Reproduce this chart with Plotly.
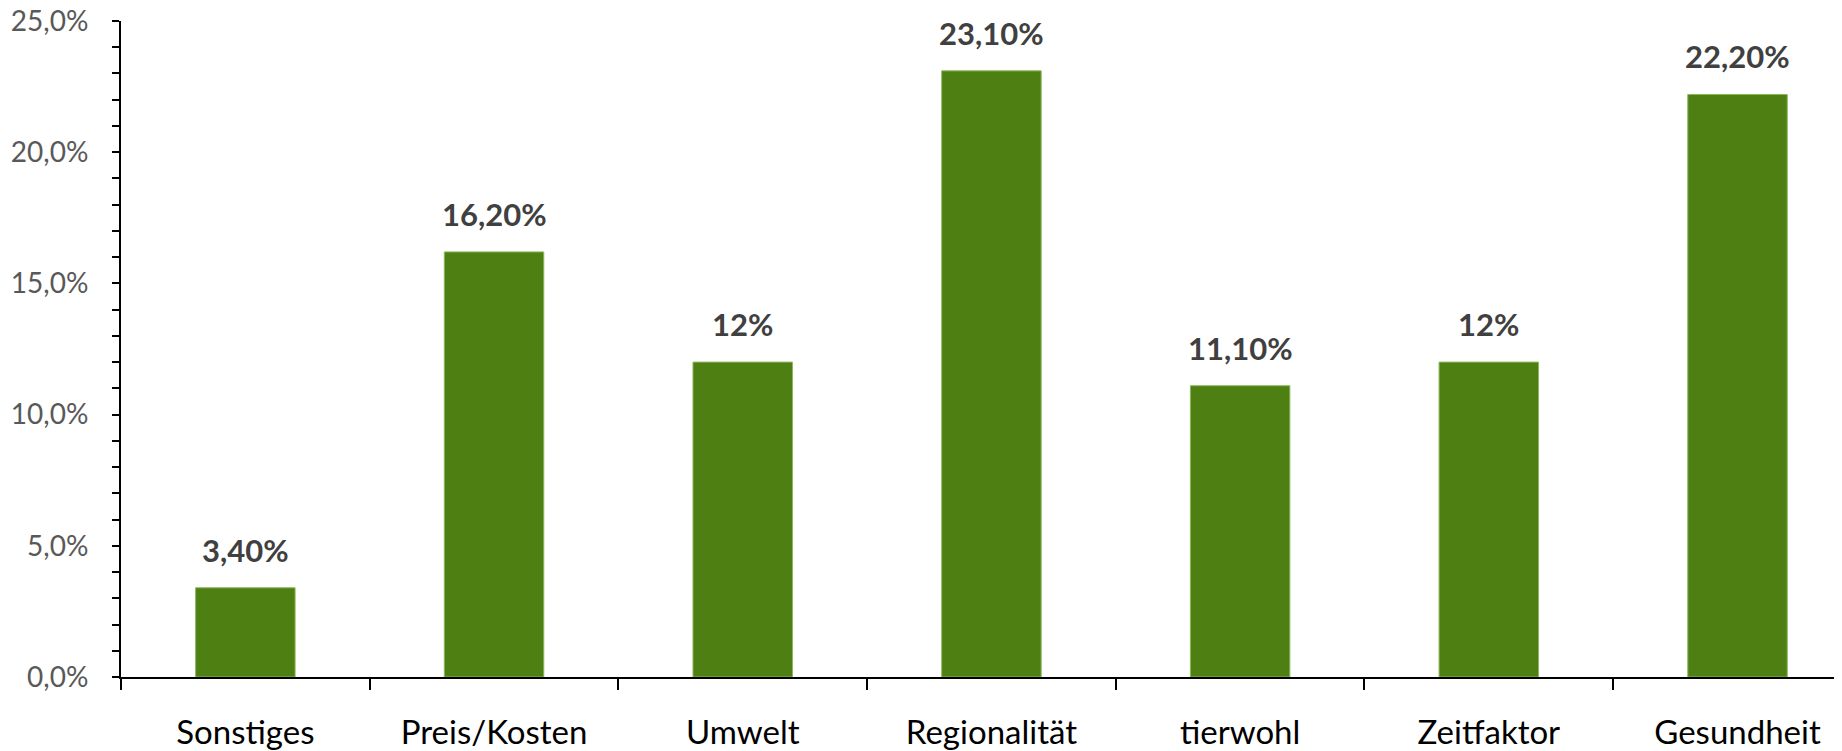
import plotly.graph_objects as go

categories = ["Sonstiges", "Preis/Kosten", "Umwelt", "Regionalität", "tierwohl", "Zeitfaktor", "Gesundheit"]
values = [3.4, 16.2, 12, 23.1, 11.1, 12, 22.2]
value_labels = ["3,40%", "16,20%", "12%", "23,10%", "11,10%", "12%", "22,20%"]
y_tickvals = [0, 5, 10, 15, 20, 25]
y_ticktext = ["0,0%", "5,0%", "10,0%", "15,0%", "20,0%", "25,0%"]

FONT = "Lato"

fig = go.Figure()
fig.add_trace(go.Bar(
    x=categories, y=values, width=0.4,
    marker=dict(color="#4D7F12", line=dict(color="#8DB85A", width=1)),
    hoverinfo="skip",
))
for c, v, t in zip(categories, values, value_labels):
    fig.add_annotation(x=c, y=v, text=t, showarrow=False, yanchor="bottom",
                       yshift=17, font=dict(family=FONT, size=31, color="#404040", weight="bold"))

fig.update_layout(
    width=1826, height=743,
    margin=dict(l=113, r=0, t=13, b=74),
    plot_bgcolor="white", paper_bgcolor="white",
    showlegend=False,
)
fig.update_xaxes(
    type="category", range=[-0.5, 6.388], tickson="boundaries",
    showline=True, linecolor="black", linewidth=2,
    ticks="outside", ticklen=11, tickwidth=2, tickcolor="black",
    tickfont=dict(family=FONT, size=33, color="black"),
    ticklabelstandoff=25, ticklabeloverflow="allow",
    showgrid=False, zeroline=False, automargin=False,
)
fig.update_yaxes(
    range=[0, 25], tickvals=y_tickvals, ticktext=y_ticktext,
    showline=True, linecolor="black", linewidth=2,
    ticks="outside", ticklen=7, tickwidth=2, tickcolor="black",
    minor=dict(dtick=1, ticks="outside", ticklen=7, tickwidth=2, tickcolor="black", showgrid=False),
    tickfont=dict(family=FONT, size=28, color="#595959"),
    ticklabelstandoff=18, ticklabeloverflow="allow",
    showgrid=False, zeroline=False, automargin=False,
)

fig.write_html("out.html")
